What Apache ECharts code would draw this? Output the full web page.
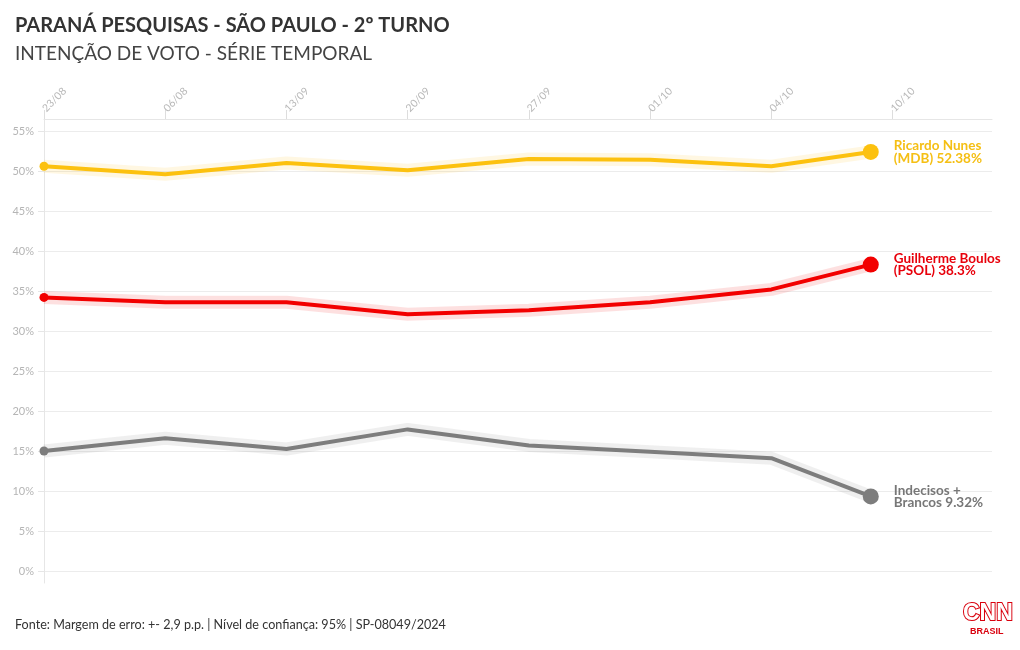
<!DOCTYPE html>
<html>
<head>
<meta charset="utf-8">
<script src="https://cdn.jsdelivr.net/npm/echarts@6/dist/echarts.min.js"></script>
<style>
  html, body { margin: 0; padding: 0; background: #fff; }
  #chart { width: 1020px; height: 650px; }
</style>
</head>
<body>
<div id="chart"></div>
<script>
// datas das pesquisas (rótulos do eixo x, como aparecem no gráfico)
var datas = ['23/08', '06/08', '13/09', '20/09', '27/09', '01/10', '04/10', '10/10'];
// posição de cada pesquisa no eixo (a última fica antes de 10/10)
var posicoes = [0, 1, 2, 3, 4, 5, 6, 6.82];
var nunes = [50.6, 49.6, 51.0, 50.1, 51.5, 51.4, 50.6, 52.38];
var boulos = [34.2, 33.6, 33.6, 32.1, 32.6, 33.6, 35.2, 38.3];
var indecisos = [15.0, 16.6, 15.25, 17.7, 15.7, 14.9, 14.1, 9.32];
var ticksY = [0, 5, 10, 15, 20, 25, 30, 35, 40, 45, 50, 55];

var fonte = 'Lato, "Noto Sans", sans-serif';
var myChart = echarts.init(document.getElementById('chart'));

const pares = (vals) => vals.map((v, i) => [posicoes[i], v]);

function linha(nome, vals, cor, corTexto, rotulo) {
  var ultimo = vals.length - 1;
  return [
    { // halo claro atrás da linha
      type: 'line',
      data: pares(vals),
      silent: true,
      symbol: 'none',
      z: 1,
      lineStyle: { width: 13, color: cor, opacity: 0.12 }
    },
    {
      name: nome,
      type: 'line',
      data: pares(vals),
      z: 3,
      symbol: 'circle',
      showAllSymbol: true,
      symbolSize: (v, p) => p.dataIndex === 0 ? 9 : (p.dataIndex === ultimo ? 16 : 0),
      itemStyle: { color: cor },
      lineStyle: { width: 4, color: cor },
      label: {
        show: true,
        position: 'right',
        distance: 15,
        formatter: (p) => p.dataIndex === ultimo ? rotulo : '',
        color: corTexto,
        fontFamily: fonte,
        fontWeight: 'bold',
        fontSize: 13.5,
        lineHeight: 12.5
      }
    }
  ];
}

var option = {
  backgroundColor: '#fff',
  animation: false,
  title: [
    {
      text: 'PARANÁ PESQUISAS - SÃO PAULO - 2º TURNO',
      left: 10, top: 11,
      textStyle: { fontFamily: fonte, fontWeight: 'bold', fontSize: 20, color: '#333' }
    },
    {
      text: 'INTENÇÃO DE VOTO - SÉRIE TEMPORAL',
      left: 10, top: 39,
      textStyle: { fontFamily: fonte, fontWeight: 'normal', fontSize: 19, color: '#444' }
    },
    {
      text: 'Fonte: Margem de erro: +- 2,9 p.p. | Nível de confiança: 95% | SP-08049/2024',
      left: 10, top: 613,
      textStyle: { fontFamily: fonte, fontWeight: 'normal', fontSize: 12.6, color: '#333' }
    }
  ],
  grid: { left: 44, right: 28, top: 119, bottom: 67 },
  xAxis: {
    type: 'value',
    position: 'top',
    min: 0,
    max: 7.82,
    splitLine: { show: false },
    axisLine: { show: true, onZero: false, lineStyle: { color: '#e6e6e6' } },
    axisTick: { show: true, length: 9, customValues: [0, 1, 2, 3, 4, 5, 6, 7], lineStyle: { color: '#dddddd' } },
    axisLabel: {
      customValues: [0, 1, 2, 3, 4, 5, 6, 7],
      rotate: -45,
      margin: 9,
      color: '#b8b8b8',
      fontFamily: fonte,
      fontSize: 10.5,
      formatter: (v) => datas[Math.round(v)] || ''
    }
  },
  yAxis: {
    type: 'value',
    min: -1.5,
    max: 56.5,
    axisLine: { show: true, onZero: false, lineStyle: { color: '#e6e6e6' } },
    axisTick: { show: true, length: 6, customValues: ticksY, lineStyle: { color: '#e6e6e6' } },
    splitLine: { show: true, lineStyle: { color: '#ececec' } },
    axisLabel: {
      customValues: ticksY,
      color: '#b5b5b5',
      fontFamily: fonte,
      fontSize: 11,
      margin: 10,
      formatter: '{value}%'
    }
  },
  series: [].concat(
    linha('Indecisos + Brancos', indecisos, '#7d7d7d', '#777777', 'Indecisos +\nBrancos 9.32%'),
    linha('Guilherme Boulos', boulos, '#f20000', '#e8000b', 'Guilherme Boulos\n(PSOL) 38.3%'),
    linha('Ricardo Nunes', nunes, '#fcc10f', '#f5bf14', 'Ricardo Nunes\n(MDB) 52.38%')
  ),
  graphic: [
    {
      type: 'text', left: 962, top: 601,
      style: { text: 'CNN', fill: '#fff', stroke: '#d9000d', lineWidth: 2, font: 'bold 23px "Liberation Sans", sans-serif' }
    },
    {
      type: 'text', left: 970, top: 627,
      style: { text: 'BRASIL', fill: '#d9000d', font: 'bold 9px "Liberation Sans", sans-serif' }
    }
  ]
};

myChart.setOption(option);
window.addEventListener('resize', () => {
  myChart.resize();
});
</script>
</body>
</html>
